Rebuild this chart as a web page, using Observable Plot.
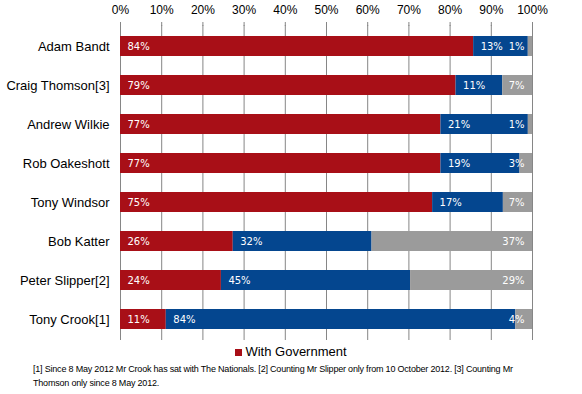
<!DOCTYPE html>
<html>
<head>
<meta charset="utf-8">
<script src="https://cdn.jsdelivr.net/npm/d3@7"></script>
<script src="https://cdn.jsdelivr.net/npm/@observablehq/plot@0.6"></script>
<style>
  html, body { margin: 0; padding: 0; background: #fff; }
  body { width: 582px; height: 394px; overflow: hidden; font-family: "Liberation Sans", Arial, sans-serif; }
  #legend { height: 20px; line-height: 20px; text-align: center; font-size: 13px; color: #000; }
  #legend .sw { display: inline-block; width: 7px; height: 7px; margin-right: 3px; vertical-align: 0px; }
  #note { padding-left: 33px; margin-top: 1px; font-size: 9px; letter-spacing: -0.2px; line-height: 13.5px; color: #000; }
</style>
</head>
<body>
<div id="chart"></div>
<div id="legend"></div>
<div id="note"></div>
<script>
const names = ["Adam Bandt", "Craig Thomson[3]", "Andrew Wilkie", "Rob Oakeshott", "Tony Windsor", "Bob Katter", "Peter Slipper[2]", "Tony Crook[1]"];
const withGov = [84, 79, 77, 77, 75, 26, 24, 11];
const againstGov = [13, 11, 21, 19, 17, 32, 45, 84];
const otherVotes = [1, 7, 1, 3, 7, 37, 29, 4];
const seriesNames = ["With Government", "Against Government", "Other"];
const seriesColors = ["#A80F17", "#04468F", "#9B9B9B"];
const legendNames = ["With Government"];
const xTicks = [0, 0.1, 0.2, 0.3, 0.4, 0.5, 0.6, 0.7, 0.8, 0.9, 1];
const noteLines = [
  "[1] Since 8 May 2012 Mr Crook has sat with The Nationals. [2] Counting Mr Slipper  only from 10 October 2012. [3] Counting Mr",
  "Thomson only since 8 May 2012."
];

const rows = [];
names.forEach((n, i) => {
  rows.push({name: n, series: seriesNames[0], value: withGov[i]});
  rows.push({name: n, series: seriesNames[1], value: againstGov[i]});
  rows.push({name: n, series: seriesNames[2], value: otherVotes[i]});
});

const stackOpts = {x: "value", y: "name", z: "series", order: seriesNames, offset: "normalize"};

const chart = Plot.plot({
  width: 582,
  height: 342,
  marginTop: 25,
  marginBottom: 2,
  marginLeft: 120,
  marginRight: 50,
  style: {fontFamily: "'Liberation Sans', Arial, sans-serif", background: "#fff"},
  x: {domain: [0, 1], axis: null},
  y: {domain: names, paddingInner: 0.5, paddingOuter: 0.25, axis: null},
  color: {domain: seriesNames, range: seriesColors},
  marks: [
    Plot.gridX(xTicks, {stroke: "#868686", strokeOpacity: 1, strokeWidth: 1}),
    Plot.axisX({
      anchor: "top", ticks: xTicks, tickSize: 4, tickPadding: 8, label: null,
      tickFormat: d => Math.round(d * 100) + "%",
      stroke: "#868686", fill: "#000", fontSize: 12, style: {letterSpacing: "0.4px"}
    }),
    Plot.axisY({
      anchor: "left", tickSize: 0, tickPadding: 11, fontSize: 13, fill: "#000", label: null
    }),
    Plot.barX(rows, Plot.stackX({...stackOpts, fill: "series"})),
    Plot.text(rows, Plot.stackX1({
      ...stackOpts,
      text: d => d.series === "Other" ? null : d.value + "%",
      textAnchor: "start", dx: 7, fill: "#fff",
      fontFamily: "'DejaVu Sans', Verdana, sans-serif", fontSize: 10
    })),
    Plot.text(rows, Plot.stackX2({
      ...stackOpts,
      text: d => d.series === "Other" ? d.value + "%" : null,
      textAnchor: "end", dx: -8, fill: "#fff",
      fontFamily: "'DejaVu Sans', Verdana, sans-serif", fontSize: 10
    }))
  ]
});
document.getElementById("chart").appendChild(chart);

const legend = document.getElementById("legend");
legendNames.forEach(n => {
  const sw = document.createElement("span");
  sw.className = "sw";
  sw.style.background = seriesColors[seriesNames.indexOf(n)];
  legend.appendChild(sw);
  legend.appendChild(document.createTextNode(n));
});
const note = document.getElementById("note");
noteLines.forEach((t, i) => {
  if (i) note.appendChild(document.createElement("br"));
  note.appendChild(document.createTextNode(t));
});
</script>
</body>
</html>
